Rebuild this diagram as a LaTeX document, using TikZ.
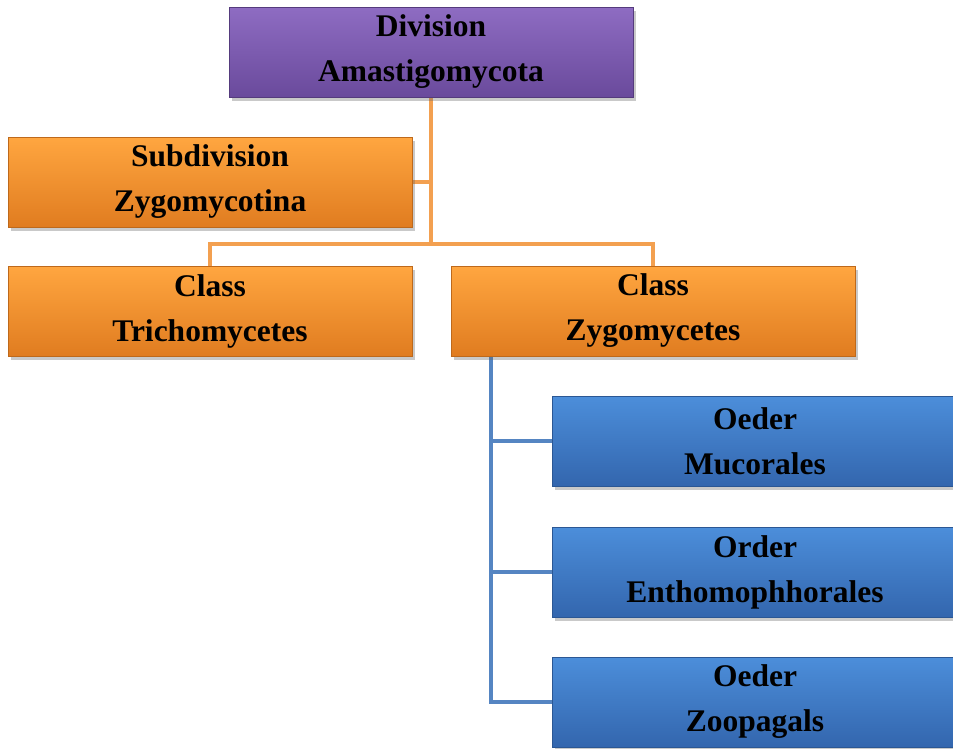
\documentclass[tikz,border=0pt]{standalone}
\usepackage{fontspec}
\setmainfont{Liberation Serif}
\usetikzlibrary{shadows,backgrounds}
\definecolor{purpTop}{HTML}{8E6CC2}
\definecolor{purpBot}{HTML}{6A4A9C}
\definecolor{oranTop}{HTML}{FFA640}
\definecolor{oranBot}{HTML}{E07C20}
\definecolor{blueTop}{HTML}{4C8EDA}
\definecolor{blueBot}{HTML}{3366AE}
\definecolor{oranLine}{HTML}{F3A050}
\definecolor{blueLine}{HTML}{5585C2}
\tikzset{
  taxon/.style={rectangle, minimum width=404pt, minimum height=90pt,
    inner sep=0pt, align=center, text=black,
    font=\bfseries\fontsize{31.5}{45}\selectfont,
    drop shadow={shadow xshift=3pt, shadow yshift=-4pt, opacity=.35, fill=black!60}},
  purplebox/.style={taxon, top color=purpTop, bottom color=purpBot, draw=purpBot!80!black, line width=.6pt},
  orangebox/.style={taxon, top color=oranTop, bottom color=oranBot, draw=oranBot!85!black, line width=.6pt},
  bluebox/.style={taxon, top color=blueTop, bottom color=blueBot, draw=blueBot!85!black, line width=.6pt},
  oranlink/.style={draw=oranLine, line width=4pt},
  bluelink/.style={draw=blueLine, line width=4pt},
}
\begin{document}
\begin{tikzpicture}[x=1pt, y=-1pt]
\useasboundingbox (0,0) rectangle (953,748);
\clip (0,0) rectangle (953,748);

% taxonomy boxes
\node[purplebox] (div) at (431,52) {Division\\Amastigomycota};
\node[orangebox] (sub) at (210,182) {Subdivision\\Zygomycotina};
\node[orangebox] (tri) at (210,311) {Class\\Trichomycetes};
\node[orangebox] (zyg) at (653,311) {Class\\Zygomycetes};
\node[bluebox, minimum width=406pt] (muc) at (755,441) {Oeder\\Mucorales};
\node[bluebox, minimum width=406pt] (ent) at (755,572) {Order\\Enthomophhorales};
\node[bluebox, minimum width=406pt] (zoo) at (755,702) {Oeder\\Zoopagals};

% junction points of the tree
\coordinate (hub) at (div.south |- 0,244);
\coordinate (subj) at (div.south |- sub.east);
\coordinate (trunk) at ([xshift=40pt]zyg.south west);

\begin{scope}[on background layer]
  \fill[white] (0,0) rectangle (953,748);
  \draw[oranlink] (div.south) -- (hub);
  \draw[oranlink] (sub.east) -- (subj);
  \draw[oranlink] (tri.north) |- (hub) -| (zyg.north);
  \draw[bluelink] (trunk) |- (zoo.west);
  \draw[bluelink] (trunk |- muc.west) -- (muc.west);
  \draw[bluelink] (trunk |- ent.west) -- (ent.west);
\end{scope}
\end{tikzpicture}
\end{document}
